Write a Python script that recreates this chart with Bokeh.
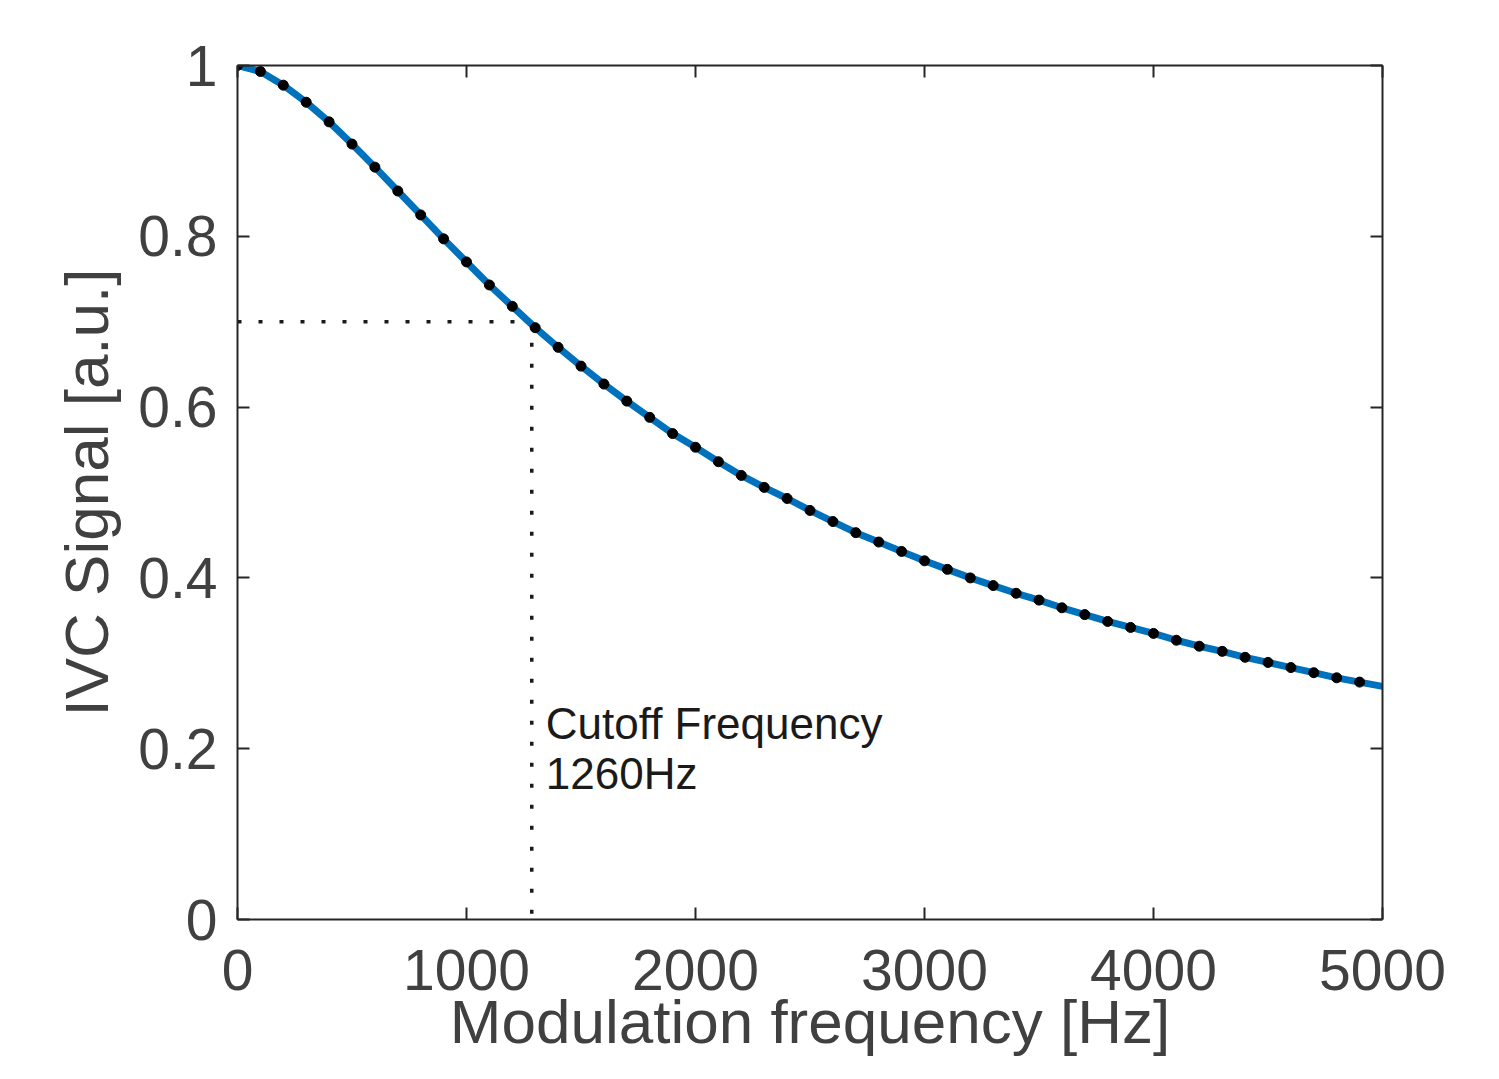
from bokeh.plotting import figure
from bokeh.models import LinearAxis, FixedTicker, Range1d
from bokeh.embed import file_html
from bokeh.resources import INLINE
from bokeh.core.properties import value

# ---- data ----
freq_hz = [0, 100, 200, 300, 400, 500, 600, 700, 800, 900,
           1000, 1100, 1200, 1300, 1400, 1500, 1600, 1700, 1800, 1900,
           2000, 2100, 2200, 2300, 2400, 2500, 2600, 2700, 2800, 2900,
           3000, 3100, 3200, 3300, 3400, 3500, 3600, 3700, 3800, 3900,
           4000, 4100, 4200, 4300, 4400, 4500, 4600, 4700, 4800, 4900]
signal = [1.000, 0.993, 0.977, 0.957, 0.934, 0.908, 0.881, 0.853, 0.825, 0.797,
          0.770, 0.743, 0.718, 0.693, 0.670, 0.648, 0.627, 0.607, 0.588, 0.569,
          0.553, 0.536, 0.520, 0.506, 0.493, 0.479, 0.466, 0.453, 0.442, 0.431,
          0.420, 0.410, 0.400, 0.391, 0.382, 0.374, 0.365, 0.357, 0.349, 0.342,
          0.335, 0.327, 0.320, 0.314, 0.307, 0.301, 0.295, 0.289, 0.283, 0.278]
curve_end_freq = 5000
curve_end_signal = 0.273
cutoff_freq = 1285
cutoff_level = 0.7
cutoff_label = ["Cutoff Frequency", "1260Hz"]

x_ticks = [0, 1000, 2000, 3000, 4000, 5000]
y_ticks = [0, 0.2, 0.4, 0.6, 0.8, 1.0]
y_tick_labels = {0: "0", 0.2: "0.2", 0.4: "0.4", 0.6: "0.6", 0.8: "0.8", 1.0: "1"}
x_title = "Modulation frequency [Hz]"
y_title = "IVC Signal [a.u.]"

FONT = "Liberation Sans"
AX = "#262626"
LBL = "#404040"

p = figure(width=1483, height=1063, output_backend="svg", toolbar_location=None,
           x_range=Range1d(0, 5000), y_range=Range1d(0, 1),
           min_border_left=237, min_border_right=101, min_border_top=65,
           min_border_bottom=144, x_axis_label=x_title, y_axis_label=y_title)
p.grid.visible = False
p.outline_line_color = None
p.background_fill_color = "white"

for ax in (p.xaxis[0], p.yaxis[0]):
    ax.axis_line_color = AX
    ax.axis_line_width = 2
    ax.major_tick_line_color = AX
    ax.major_tick_line_width = 2
    ax.major_tick_in = 12
    ax.major_tick_out = 0
    ax.minor_tick_line_color = None
    ax.major_label_text_font = FONT
    ax.major_label_text_font_size = "57px"
    ax.major_label_text_color = LBL
    ax.axis_label_text_font = FONT
    ax.axis_label_text_font_size = "62px"
    ax.axis_label_text_font_style = "normal"
    ax.axis_label_text_color = LBL

p.xaxis[0].ticker = FixedTicker(ticks=x_ticks)
p.yaxis[0].ticker = FixedTicker(ticks=y_ticks)
p.yaxis[0].major_label_overrides = y_tick_labels
p.xaxis[0].major_label_standoff = 30
p.xaxis[0].axis_label_standoff = -6
p.yaxis[0].major_label_standoff = 20
p.yaxis[0].axis_label_standoff = 14

for loc, tk in (("above", x_ticks), ("right", y_ticks)):
    a = LinearAxis(ticker=FixedTicker(ticks=tk))
    a.axis_line_color = AX
    a.axis_line_width = 2
    a.major_tick_line_color = AX
    a.major_tick_line_width = 2
    a.major_tick_in = 12
    a.major_tick_out = 0
    a.minor_tick_line_color = None
    a.major_label_overrides = {t: "" for t in tk}
    a.major_label_standoff = 0
    p.add_layout(a, loc)

# cutoff guide lines
p.line([0, cutoff_freq], [cutoff_level, cutoff_level], line_color="#1a1a1a",
       line_width=3.5, line_dash="4 17")
p.line([cutoff_freq, cutoff_freq], [cutoff_level, 0], line_color="#1a1a1a",
       line_width=3.5, line_dash="4 17")

# curve and points
p.line(freq_hz + [curve_end_freq], signal + [curve_end_signal],
       line_color="#0072BD", line_width=7)
p.scatter(freq_hz, signal, size=10, fill_color="black", line_color="black")

p.text([cutoff_freq], [0.2], text=[cutoff_label[0]], x_offset=14, y_offset=-25,
       text_font=value(FONT), text_font_size="44px", text_color="#1a1a1a",
       text_baseline="middle", text_align="left")
p.text([cutoff_freq], [0.2], text=[cutoff_label[1]], x_offset=14, y_offset=25,
       text_font=value(FONT), text_font_size="44px", text_color="#1a1a1a",
       text_baseline="middle", text_align="left")

open("out.html", "w").write(file_html(p, INLINE))
